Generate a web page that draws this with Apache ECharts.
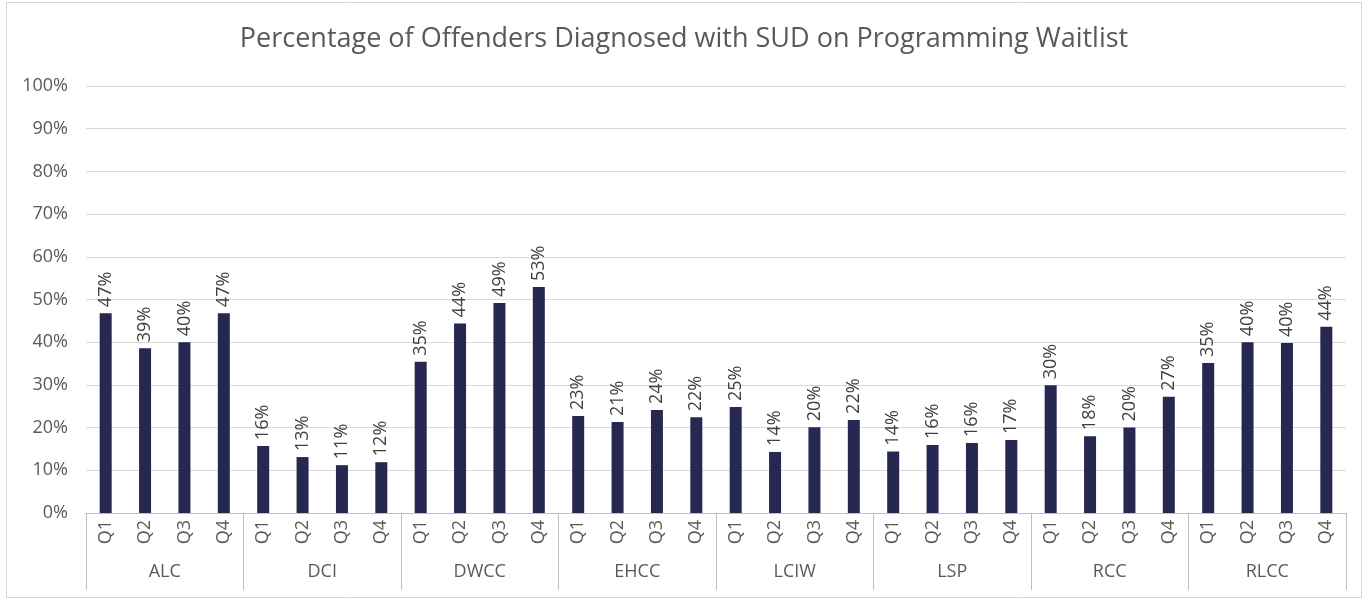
<!DOCTYPE html>
<html>
<head>
<meta charset="utf-8">
<script src="https://cdn.jsdelivr.net/npm/echarts@6/dist/echarts.min.js"></script>
<style>
  html, body { margin: 0; padding: 0; background: #fff; }
  #chart { width: 1368px; height: 600px; }
</style>
</head>
<body>
<div id="chart"></div>
<script>
// facilities and quarters
var facilities = ['ALC', 'DCI', 'DWCC', 'EHCC', 'LCIW', 'LSP', 'RCC', 'RLCC'];
var quarters = ['Q1', 'Q2', 'Q3', 'Q4'];

// percent on waitlist, per facility, Q1..Q4
var alc  = [46.8, 38.6, 40.0, 46.8];
var dci  = [15.7, 13.1, 11.2, 11.9];
var dwcc = [35.4, 44.4, 49.2, 52.9];
var ehcc = [22.7, 21.3, 24.1, 22.4];
var lciw = [24.8, 14.3, 20.1, 21.8];
var lsp  = [14.4, 15.9, 16.4, 17.1];
var rcc  = [29.9, 18.0, 20.0, 27.2];
var rlcc = [35.1, 40.0, 39.8, 43.6];

var yTicks = [0, 10, 20, 30, 40, 50, 60, 70, 80, 90, 100];

var groups = [alc, dci, dwcc, ehcc, lciw, lsp, rcc, rlcc];
var qLabels = [];
var values = [];
groups.forEach(function (g) {
    g.forEach(function (v, i) {
        qLabels.push(quarters[i]);
        values.push(v);
    });
});

var txt = '#595959';
var font = 'Open Sans';

var myChart = echarts.init(document.getElementById('chart'));
myChart.setOption({
    animation: false,
    textStyle: { fontFamily: font },
    title: {
        text: 'Percentage of Offenders Diagnosed with SUD on Programming Waitlist',
        left: 'center',
        top: 21,
        textStyle: { fontFamily: font, fontSize: 27, fontWeight: 'normal', color: txt }
    },
    graphic: [{
        type: 'rect',
        shape: { x: 6.5, y: 2.5, width: 1355, height: 595 },
        style: { fill: 'none', stroke: '#d9d9d9', lineWidth: 1 },
        silent: true
    }],
    grid: { left: 86, right: 22, top: 86, bottom: 87 },
    xAxis: [
        {
            type: 'category',
            data: qLabels,
            axisLine: { lineStyle: { color: '#bfbfbf' } },
            axisTick: { show: false },
            axisLabel: { interval: 0, rotate: 90, margin: 7, fontSize: 18, color: txt, fontFamily: font }
        },
        {
            type: 'category',
            data: facilities,
            position: 'bottom',
            axisLine: { show: false },
            axisTick: { show: true, interval: 0, length: 77, lineStyle: { color: '#bfbfbf' } },
            axisLabel: { interval: 0, margin: 50, fontSize: 18, color: txt, fontFamily: font }
        }
    ],
    yAxis: {
        type: 'value',
        min: yTicks[0],
        max: yTicks[yTicks.length - 1],
        interval: 10,
        axisLine: { show: false },
        axisTick: { show: false },
        splitLine: { lineStyle: { color: '#d9d9d9' } },
        axisLabel: { formatter: '{value}%', margin: 18, fontSize: 18, color: txt, fontFamily: font }
    },
    series: [{
        type: 'bar',
        xAxisIndex: 0,
        data: values,
        barWidth: 12,
        itemStyle: { color: '#262851' },
        label: {
            show: true,
            position: 'top',
            rotate: 90,
            align: 'left',
            verticalAlign: 'middle',
            distance: 6,
            fontSize: 18,
            color: '#404040',
            fontFamily: font,
            formatter: function (p) { return Math.round(p.value) + '%'; }
        }
    }]
});
</script>
</body>
</html>
